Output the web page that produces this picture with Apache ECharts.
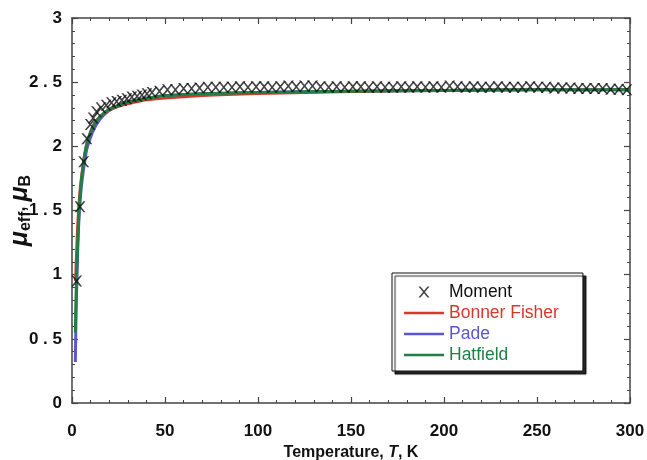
<!DOCTYPE html>
<html>
	<head>
		<meta charset="utf-8" />
		<title></title>
		<script type="text/javascript" src="https://cdn.jsdelivr.net/npm/echarts@6/dist/echarts.min.js"></script>
	</head>
	<body>
		<div id="main" style="width: 647px; height: 460px;"></div>
	</body>
	<style>
		body{
			padding: 0px;
			margin: 0px;
			background: #fff;
		}
	</style>
	<script type="text/javascript">
// measured moment
var momentT = [2.5, 4.3, 6.3, 8.0, 9.8, 11.4, 13.2, 15.6, 18.4, 21.2, 24, 26.8, 29.5, 32.2, 35, 37.6, 40.3, 43,
	47, 51.3, 55.6, 60, 64.3, 68.6, 73, 77.3, 81.6, 86, 90.3, 94.6, 99, 103.3, 107.6, 112, 116.3, 120.6, 125, 129.3,
	133.6, 138, 142.3, 146.6, 151, 155.3, 159.6, 164, 168.3, 172.6, 177, 181.3, 185.6, 190, 194.3, 198.6, 203, 207.3,
	211.6, 216, 220.3, 224.6, 229, 233.3, 237.6, 242, 246.3, 250.6, 255, 259.3, 263.6, 268, 272.3, 276.6, 281, 285.3,
	289.6, 294, 298.3];
var momentMu = [0.95, 1.53, 1.88, 2.06, 2.17, 2.22, 2.27, 2.30, 2.32, 2.34, 2.35, 2.36, 2.37, 2.385, 2.39, 2.40, 2.41, 2.42,
	2.43, 2.44, 2.44, 2.45, 2.45, 2.455, 2.46, 2.46, 2.46, 2.46, 2.465, 2.46, 2.465, 2.465, 2.46, 2.465, 2.47, 2.465, 2.47, 2.47,
	2.465, 2.46, 2.465, 2.46, 2.465, 2.465, 2.46, 2.465, 2.46, 2.46, 2.465, 2.46, 2.465, 2.46, 2.465, 2.46, 2.47, 2.465,
	2.46, 2.465, 2.46, 2.46, 2.465, 2.46, 2.46, 2.46, 2.465, 2.46, 2.46, 2.455, 2.455, 2.455, 2.45, 2.45, 2.45, 2.45,
	2.445, 2.445, 2.44];

// fits
var fitT = [1.8, 2.2, 2.7, 3.2, 4, 5, 6, 7, 8, 10, 12, 15, 20, 25, 30, 40, 50, 70, 100, 150, 200, 250, 300];
var bonnerMu = [0.95, 1.12, 1.3, 1.45, 1.62, 1.76, 1.87, 1.96, 2.03, 2.12, 2.18, 2.23, 2.28, 2.31, 2.33, 2.36, 2.375, 2.395, 2.41, 2.425, 2.435, 2.44, 2.44];
var padeMu = [0.32, 0.7, 1.0, 1.25, 1.5, 1.68, 1.8, 1.9, 1.98, 2.07, 2.14, 2.21, 2.28, 2.32, 2.345, 2.375, 2.395, 2.41, 2.42, 2.43, 2.435, 2.44, 2.44];
var hatfieldMu = [0.55, 0.85, 1.1, 1.3, 1.55, 1.73, 1.85, 1.95, 2.02, 2.11, 2.17, 2.23, 2.29, 2.32, 2.345, 2.375, 2.395, 2.41, 2.42, 2.43, 2.435, 2.44, 2.44];

var xTicks = [0, 50, 100, 150, 200, 250, 300];
var yTicks = [0, 0.5, 1, 1.5, 2, 2.5, 3];

function pairs(xs, ys) {
	var out = [];
	for (var i = 0; i < xs.length; i++) out.push([xs[i], ys[i]]);
	return out;
}

var crossPath = 'path://M0,0L1.8,0L5,3.8L8.2,0L10,0L5.9,5L10,10L8.2,10L5,6.2L1.8,10L0,10L4.1,5Z';
var linePath = 'path://M0,0L40,0L40,2.6L0,2.6Z';
var axisCol = '#444';
var font = "'Liberation Sans', Arial, sans-serif";

var mychart = echarts.init(document.getElementById('main'));

function makeAxis(kind, pos) {
	return {
		type: 'value',
		position: pos,
		min: 0,
		max: kind == 'x' ? 300 : 3,
		interval: kind == 'x' ? 50 : 0.5,
		axisLine: { show: true, onZero: false, lineStyle: { color: axisCol, width: 1.5 } },
		axisTick: { show: true, inside: true, length: 6, lineStyle: { color: axisCol, width: 1.2 } },
		minorTick: { show: true, splitNumber: 5, length: 3, lineStyle: { color: axisCol, width: 1 } },
		splitLine: { show: false },
		axisLabel: { show: false }
	};
}

var xBottom = makeAxis('x', 'bottom');
xBottom.axisLabel = { show: true, margin: 20, color: '#111', fontSize: 17, fontWeight: 'bold', fontFamily: font,
	formatter: function (v) { return xTicks.indexOf(v) >= 0 ? String(v) : ''; } };
xBottom.name = '{b|Temperature, }{i|T}{b|, K}';
xBottom.nameLocation = 'middle';
xBottom.nameGap = 40;
xBottom.nameTextStyle = {
	fontFamily: font, fontSize: 16, fontWeight: 'bold', color: '#111',
	rich: {
		b: { fontSize: 16, fontWeight: 'bold', color: '#111', fontFamily: font },
		i: { fontSize: 16, fontWeight: 'bold', fontStyle: 'italic', color: '#111', fontFamily: font }
	}
};

var yLeft = makeAxis('y', 'left');
// tick labels in the original are letter-spaced ("2 . 5")
yLeft.axisLabel = { show: true, margin: 10, color: '#111', fontSize: 17, fontWeight: 'bold', fontFamily: font,
	formatter: function (v) { return yTicks.indexOf(v) >= 0 ? String(v).split('').join(' ') : ''; } };
yLeft.name = '{mu|μ}{sub|eff}{n|, }{mu|μ}{sub|B}';
yLeft.nameLocation = 'middle';
yLeft.nameGap = 38;
yLeft.nameMoveOverlap = false;
yLeft.nameRotate = 90;
yLeft.nameTextStyle = {
	fontFamily: font, color: '#111',
	rich: {
		mu: { fontSize: 25, fontWeight: 'bold', fontStyle: 'italic', color: '#111', fontFamily: font },
		sub: { fontSize: 16, fontWeight: 'bold', color: '#111', fontFamily: font, padding: [12, 0, 0, 0] },
		n: { fontSize: 18, fontWeight: 'bold', color: '#111', fontFamily: font }
	}
};

mychart.setOption({
	animation: false,
	grid: { left: 72, right: 17, top: 18, bottom: 57, containLabel: false, outerBoundsMode: 'none' },
	xAxis: [xBottom, makeAxis('x', 'top')],
	yAxis: [yLeft, makeAxis('y', 'right')],
	legend: {
		orient: 'vertical',
		left: 392,
		top: 273,
		padding: [10, 24, 7, 12],
		itemGap: 3,
		itemWidth: 40,
		itemHeight: 11,
		backgroundColor: '#fff',
		borderColor: '#111',
		borderWidth: 1,
		shadowColor: 'rgba(0,0,0,0.85)',
		shadowBlur: 1,
		shadowOffsetX: 3,
		shadowOffsetY: 3,
		textStyle: { fontSize: 17.5, fontFamily: font },
		data: [
			{ name: 'Moment', icon: crossPath, textStyle: { color: '#111' } },
			{ name: 'Bonner Fisher', icon: linePath, textStyle: { color: '#d9362c' } },
			{ name: 'Pade', icon: linePath, textStyle: { color: '#5b55d4' } },
			{ name: 'Hatfield', icon: linePath, textStyle: { color: '#1f7f45' } }
		]
	},
	series: [
		{
			name: 'Pade', type: 'line', xAxisIndex: 0, yAxisIndex: 0, data: pairs(fitT, padeMu), smooth: 0.3, symbol: 'none', z: 2,
			color: '#5b55d4', lineStyle: { width: 3 }
		},
		{
			name: 'Bonner Fisher', type: 'line', xAxisIndex: 0, yAxisIndex: 0, data: pairs(fitT, bonnerMu), smooth: 0.3, symbol: 'none', z: 3,
			color: '#d9362c', lineStyle: { width: 2.5 }
		},
		{
			name: 'Hatfield', type: 'line', xAxisIndex: 0, yAxisIndex: 0, data: pairs(fitT, hatfieldMu), smooth: 0.3, symbol: 'none', z: 4,
			color: '#1f7f45', lineStyle: { width: 3 }
		},
		{
			name: 'Moment', type: 'scatter', xAxisIndex: 0, yAxisIndex: 0, data: pairs(momentT, momentMu), z: 5,
			symbol: crossPath, symbolSize: 11, color: '#111'
		}
	]
});
	</script>
</html>
